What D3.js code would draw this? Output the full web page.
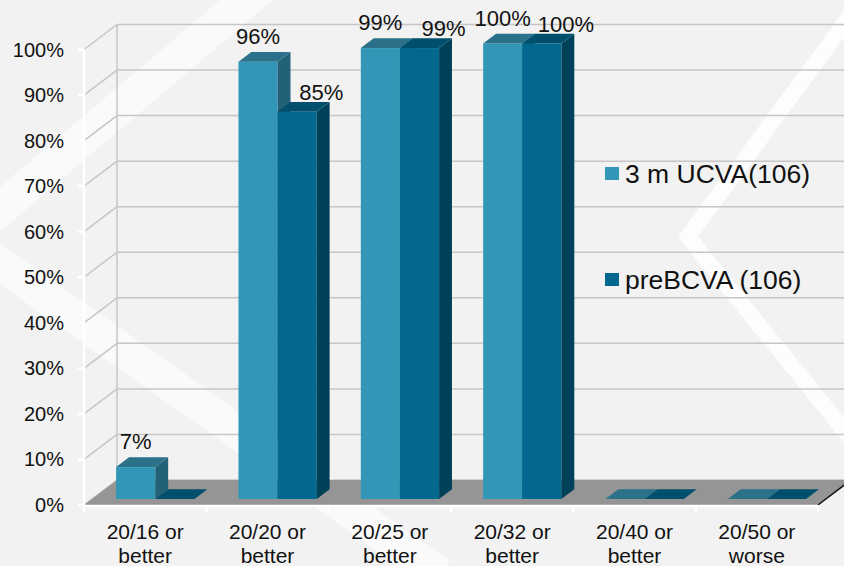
<!DOCTYPE html>
<html>
<head>
<meta charset="utf-8">
<script src="https://cdn.jsdelivr.net/npm/d3@7"></script>
<style>
    body { margin: 0; background: #f2f2f2; }
    svg { display: block; font-family: Arial, "Liberation Sans", sans-serif; }
</style>
</head>
<body>
<svg class="chart" width="844" height="566"></svg>
<script>
// data (percent)
var categories = ["20/16 or better", "20/20 or better", "20/25 or better", "20/32 or better", "20/40 or better", "20/50 or worse"];
var seriesNames = ["3 m UCVA(106)", "preBCVA (106)"];
var ucva = [7, 96, 99, 100, 0, 0];
var preBcva = [0, 85, 99, 100, 0, 0];
var yTicks = [0, 10, 20, 30, 40, 50, 60, 70, 80, 90, 100];

var svg = d3.select(".chart");

// 3d look: the whole floor is 33px deep to the right and 25px up
var depth = { dx: 33, dy: -25 },
    barFront = 0.24,
    barBack = 0.63;

var x0 = d3.scaleBand()
    .domain(categories)
    .range([84, 818])
    .paddingInner(0.36)
    .paddingOuter(0.18)
    .align(0.55);

var x1 = d3.scaleBand()
    .domain([0, 1])
    .range([0, x0.bandwidth()]);

var y = d3.scaleLinear()
    .domain([0, 100])
    .range([505, 49.5]);

var colors = [
    { front: "#3297b6", side: "#236179", top: "#2a7189" },
    { front: "#02688f", side: "#00415a", top: "#004f6d" }
];

// background swooshes
var swoosh = d3.line();
svg.append("path")
    .attr("d", swoosh([[270, -20], [-35, 239], [440, 575]]))
    .attr("fill", "none")
    .attr("stroke", "#ffffff")
    .attr("stroke-opacity", 0.6)
    .attr("stroke-width", 34);
svg.append("path")
    .attr("d", swoosh([[865, -5], [688, 237], [860, 450]]))
    .attr("fill", "none")
    .attr("stroke", "#ffffff")
    .attr("stroke-opacity", 0.8)
    .attr("stroke-width", 16);

// gridlines on the side and back walls
var grid = svg.append("g")
    .attr("stroke", "#c6c6c6")
    .attr("stroke-width", 1.5);

grid.selectAll(".side")
    .data(yTicks)
    .enter().append("line")
    .attr("x1", 84)
    .attr("y1", function (d) { return y(d); })
    .attr("x2", 84 + depth.dx)
    .attr("y2", function (d) { return y(d) + depth.dy; });

grid.selectAll(".back")
    .data(yTicks)
    .enter().append("line")
    .attr("x1", 84 + depth.dx)
    .attr("y1", function (d) { return y(d) + depth.dy; })
    .attr("x2", 818 + depth.dx)
    .attr("y2", function (d) { return y(d) + depth.dy; });

grid.append("line")
    .attr("x1", 84 + depth.dx)
    .attr("y1", y(0) + depth.dy)
    .attr("x2", 84 + depth.dx)
    .attr("y2", y(100) + depth.dy);

// floor
svg.append("polygon")
    .attr("points", [[84, y(0)], [818, y(0)], [818 + depth.dx, y(0) + depth.dy], [84 + depth.dx, y(0) + depth.dy]].join(" "))
    .attr("fill", "#959595");

svg.append("line")
    .attr("x1", 818)
    .attr("y1", y(0))
    .attr("x2", 818 + depth.dx)
    .attr("y2", y(0) + depth.dy)
    .attr("stroke", "#111")
    .attr("stroke-width", 1.5);

// bars
var bars = [];
categories.forEach(function (c, i) {
    [ucva[i], preBcva[i]].forEach(function (v, s) {
        bars.push({ cat: c, series: s, value: v });
    });
});

var fdx = barFront * depth.dx, fdy = barFront * depth.dy,
    ddx = (barBack - barFront) * depth.dx, ddy = (barBack - barFront) * depth.dy,
    bw = x1.bandwidth();

var bar = svg.selectAll(".bar")
    .data(bars)
    .enter().append("g")
    .attr("class", "bar");

bar.each(function (d) {
    var g = d3.select(this),
        xf = x0(d.cat) + x1(d.series) + fdx,
        yb = y(0) + fdy,
        yt = y(d.value) + fdy,
        col = colors[d.series];
    d.xf = xf;
    d.yt = yt;
    if (d.value > 0) {
        g.append("rect")
            .attr("x", xf)
            .attr("y", yt)
            .attr("width", bw)
            .attr("height", yb - yt)
            .attr("fill", col.front);
        g.append("polygon")
            .attr("points", [[xf + bw, yt], [xf + bw + ddx, yt + ddy], [xf + bw + ddx, yb + ddy], [xf + bw, yb]].join(" "))
            .attr("fill", col.side);
    }
    g.append("polygon")
        .attr("points", [[xf, yt], [xf + bw, yt], [xf + bw + ddx, yt + ddy], [xf + ddx, yt + ddy]].join(" "))
        .attr("fill", col.top);
});

// value labels
svg.selectAll(".value")
    .data(bars.filter(function (d) { return d.value > 0; }))
    .enter().append("text")
    .attr("class", "value")
    .attr("x", function (d) { return d.xf + bw / 2 + (d.series ? 24 : 0); })
    .attr("y", function (d) { return d.yt - (d.series ? 12 : 18); })
    .attr("text-anchor", "middle")
    .attr("font-size", 22)
    .attr("fill", "#111")
    .text(function (d) { return d.value + "%"; });

// front axes in white
var axis = svg.append("g")
    .attr("stroke", "#ffffff")
    .attr("stroke-width", 2.5);

axis.append("line")
    .attr("x1", 84).attr("y1", y(0))
    .attr("x2", 84).attr("y2", y(100));

axis.selectAll(".ytick")
    .data(yTicks)
    .enter().append("line")
    .attr("x1", 78).attr("x2", 84)
    .attr("y1", function (d) { return y(d); })
    .attr("y2", function (d) { return y(d); });

axis.append("line")
    .attr("x1", 84).attr("y1", y(0) + 1)
    .attr("x2", 818).attr("y2", y(0) + 1);

axis.selectAll(".xtick")
    .data(d3.range(categories.length + 1))
    .enter().append("line")
    .attr("x1", function (i) { return 84 + i * x0.step(); })
    .attr("x2", function (i) { return 84 + i * x0.step(); })
    .attr("y1", y(0))
    .attr("y2", y(0) + 7);

// y tick labels
svg.selectAll(".ylabel")
    .data(yTicks)
    .enter().append("text")
    .attr("x", 64)
    .attr("y", function (d) { return y(d); })
    .attr("dy", "0.35em")
    .attr("text-anchor", "end")
    .attr("font-size", 20)
    .attr("fill", "#111")
    .text(function (d) { return d + "%"; });

// category labels, two lines each
var catLabel = svg.selectAll(".xlabel")
    .data(categories)
    .enter().append("text")
    .attr("text-anchor", "middle")
    .attr("font-size", 21)
    .attr("fill", "#111");

catLabel.append("tspan")
    .attr("x", function (d, i) { return 84 + (i + 0.5) * x0.step(); })
    .attr("y", 539)
    .text(function (d) { return d.split(" or ")[0] + " or"; });

catLabel.append("tspan")
    .attr("x", function (d, i) { return 84 + (i + 0.5) * x0.step(); })
    .attr("y", 563)
    .text(function (d) { return d.split(" or ")[1]; });

// legend
var legend = svg.selectAll(".legend")
    .data(seriesNames)
    .enter().append("g")
    .attr("transform", function (d, i) { return "translate(605," + (167 + i * 106) + ")"; });

legend.append("rect")
    .attr("width", 14)
    .attr("height", 13)
    .attr("fill", function (d, i) { return colors[i].front; });

legend.append("text")
    .attr("x", 20)
    .attr("y", 16)
    .attr("font-size", 26.5)
    .attr("fill", "#111")
    .text(function (d) { return d; });
</script>
</body>
</html>
